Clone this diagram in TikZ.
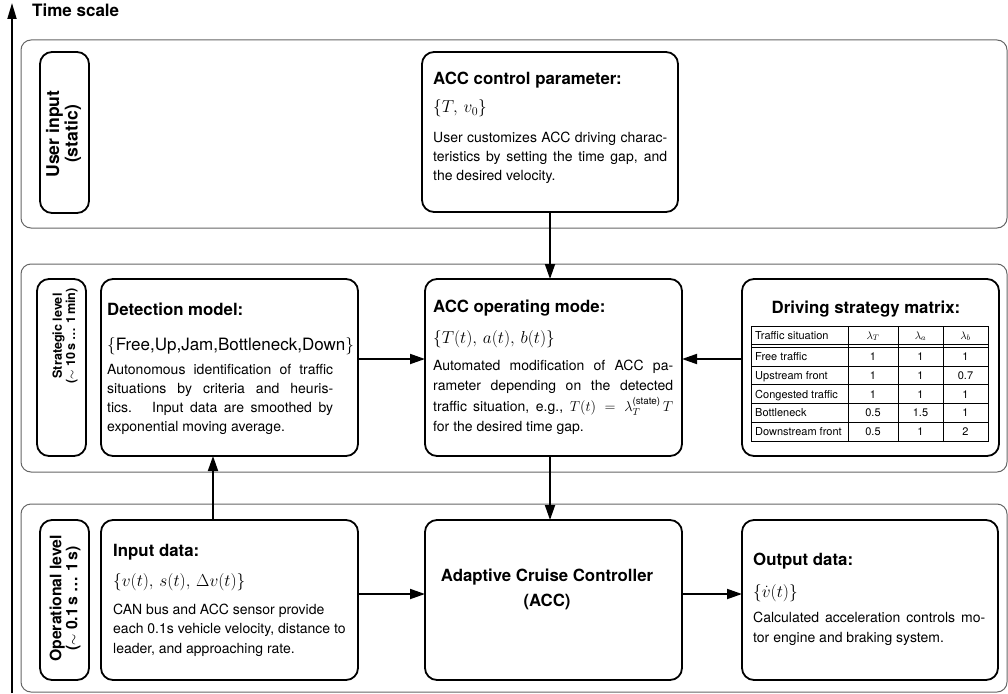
\documentclass[tikz,border=0pt]{standalone}
\usepackage{amsmath}
\usepackage[no-math]{fontspec}
\setmainfont{TeX Gyre Heros}
\usetikzlibrary{arrows.meta}
\definecolor{bandc}{gray}{0.4}
\newcommand{\jl}[2]{\hbox{\makebox[#1][s]{#2}}}
\newcommand{\pl}[1]{\hbox{#1}}
\newcommand{\titf}{\fontsize{16.8}{20}\selectfont\bfseries}
\newcommand{\bodf}{\fontsize{14}{19.5}\selectfont}
\newcommand{\matf}{\fontsize{17.5}{20}\selectfont}
\newcommand{\tabf}{\fontsize{11}{13}\selectfont}
\begin{document}
\begin{tikzpicture}[x=1pt,y=-1pt,
  band/.style={draw=bandc, line width=1pt, rounded corners=10pt},
  box/.style={draw, line width=1.8pt, rounded corners=12pt, inner sep=0pt, outer sep=0pt},
  arr/.style={line width=1.8pt, -{Triangle[length=15pt,width=10pt]}},
  tarr/.style={line width=1.8pt, -{Triangle[length=16pt,width=9pt]}},
  txt/.style={anchor=base west, inner sep=0pt},
  tline/.style={line width=0.6pt},
  cell/.style={anchor=base, inner sep=0pt, font=\tabf},
  vlab/.style={rotate=90, align=center, inner sep=0pt}]
\useasboundingbox (0,0) rectangle (1008,693);

% time scale
\coordinate (tb) at (12,693);
\coordinate (tt) at (12,3);
\draw[tarr] (tb) -- (tt);
\node[txt, font=\fontsize{17}{20}\selectfont\bfseries] (ts) at (32,17) {Time scale};

% bands
\draw[band] (21,40) rectangle (1007,228);
\draw[band] (21,264) rectangle (1007,472);
\draw[band] (21,504) rectangle (1007,692);

% label boxes
\node[box, minimum width=49pt, minimum height=161pt] (lab1) at (64.5,132.5) {};
\node[box, minimum width=49pt, minimum height=177pt] (lab2) at (61.5,367.5) {};
\node[box, minimum width=49pt, minimum height=160pt] (lab3) at (64.5,600) {};
\node[vlab, font=\fontsize{17.6}{18.5}\selectfont\bfseries] (lab1t) at (63.5,134) {User input\\(static)};
\node[vlab, font=\fontsize{12.6}{12}\selectfont\bfseries] (lab2t) at (65,336) {Strategic level\\($\sim$ 10\,s \ldots\ 1\,min)};
\node[vlab, font=\fontsize{15.8}{16}\selectfont\bfseries] (lab3t) at (65,598.5) {Operational level\\($\sim$ 0.1\,s \ldots\ 1\,s)};

% main boxes
\node[box, minimum width=256pt, minimum height=160pt] (ctrl) at (550,132) {};
\node[box, minimum width=257pt, minimum height=177pt] (mode) at (553.5,367.5) {};
\node[box, minimum width=257pt, minimum height=177pt] (det) at (229.5,367.5) {};
\node[box, minimum width=257pt, minimum height=177pt] (mat) at (870.5,367.5) {};
\node[box, minimum width=257pt, minimum height=160pt] (inp) at (229.5,600) {};
\node[box, minimum width=257pt, minimum height=160pt] (acc) at (553.5,600) {};
\node[box, minimum width=256pt, minimum height=160pt] (out) at (870,600) {};

% ACC control parameter
\node[txt, font=\titf] (ctrl-t) at (433,84) {ACC control parameter:};
\node[txt, font=\matf] (ctrl-m) at (433,112.7) {$\{T,\,v_0\}$};
\node[txt, font=\bodf] (ctrl-b) at (433,142.5) {\vtop{\baselineskip=19pt
  \jl{234pt}{User customizes ACC driving charac-}
  \jl{234pt}{teristics by setting the time gap, and}
  \pl{the desired velocity.}}};

% ACC operating mode
\node[txt, font=\titf] (mode-t) at (433,312.7) {ACC operating mode:};
\node[txt, font=\matf] (mode-m) at (433,343.3) {$\{T(t),\,a(t),\,b(t)\}$};
\node[txt, font=\bodf] (mode-b) at (433,370.7) {\vtop{\baselineskip=20.2pt
  \jl{240pt}{Automated modification of ACC pa-}
  \jl{240pt}{rameter depending on the detected}
  \jl{240pt}{traffic situation, e.g., $T(t) = \lambda_T^{\text{(state)}}\,T$}
  \pl{for the desired time gap.}}};

% Detection model
\node[txt, font=\titf] (det-t) at (107,315.5) {Detection model:};
\node[txt, font=\fontsize{17}{20}\selectfont] (det-m) at (107,350) {$\{$Free,Up,Jam,Bottleneck,Down$\}$};
\node[txt, font=\bodf] (det-b) at (107,374) {\vtop{\baselineskip=19.3pt
  \jl{226pt}{Autonomous identification of traffic}
  \jl{226pt}{situations by criteria and heuris-}
  \jl{226pt}{tics. \ Input data are smoothed by}
  \pl{exponential moving average.}}};

% Driving strategy matrix
\node[anchor=base, inner sep=0pt, font=\titf] (mat-t) at (866,313) {Driving strategy matrix:};
\draw[tline] (751,326) rectangle (988,441);
\draw[tline] (751,344) -- (988,344);
\draw[tline] (751,347) -- (988,347);
\foreach \yy in {365.8,384.6,403.4,422.2} \draw[tline] (751,\yy) -- (988,\yy);
\foreach \xx in {848,898,943} \draw[tline] (\xx,326) -- (\xx,441);
\node[cell, anchor=base west] (h0) at (755,339) {Traffic situation};
\node[cell] (h1) at (873,339) {$\lambda_T$};
\node[cell] (h2) at (920.5,339) {$\lambda_a$};
\node[cell] (h3) at (965.5,339) {$\lambda_b$};
\foreach \nm/\va/\vb/\vc [count=\i] in {Free traffic/1/1/1, Upstream front/1/1/0.7, Congested traffic/1/1/1, Bottleneck/0.5/1.5/1, Downstream front/0.5/1/2} {
  \pgfmathsetmacro{\yb}{347+(\i-0.5)*18.8+4}
  \node[cell, anchor=base west] (r\i-0) at (755,\yb) {\nm};
  \node[cell] (r\i-1) at (873,\yb) {\va};
  \node[cell] (r\i-2) at (920.5,\yb) {\vb};
  \node[cell] (r\i-3) at (965.5,\yb) {\vc};
}

% Input data
\node[txt, font=\titf] (inp-t) at (113,556) {Input data:};
\node[txt, font=\matf] (inp-m) at (113,586) {$\{v(t),\,s(t),\,\Delta v(t)\}$};
\node[txt, font=\bodf] (inp-b) at (113,614) {\vtop{\baselineskip=19.7pt
  \pl{CAN bus and ACC sensor provide}
  \pl{each 0.1s vehicle velocity, distance to}
  \pl{leader, and approaching rate.}}};

% ACC
\node[anchor=base, inner sep=0pt, font=\titf] (acc-1) at (547,581.7) {Adaptive Cruise Controller};
\node[anchor=base, inner sep=0pt, font=\titf] (acc-2) at (547,606.7) {(ACC)};

% Output data
\node[txt, font=\titf] (out-t) at (753,565.7) {Output data:};
\node[txt, font=\matf] (out-m) at (753,597) {$\{\dot v(t)\}$};
\node[txt, font=\bodf] (out-b) at (753,622.7) {\vtop{\baselineskip=20pt
  \jl{232pt}{Calculated acceleration controls mo-}
  \pl{tor engine and braking system.}}};

% arrows
\draw[arr] (ctrl.south) -- (ctrl.south |- mode.north);
\draw[arr] (mode.south -| ctrl.south) -- (acc.north -| ctrl.south);
\draw[arr] ([yshift=8.5pt]det.east) -- ([yshift=8.5pt]det.east -| mode.west);
\draw[arr] ([yshift=8.5pt]mat.west) -- ([yshift=8.5pt]mat.west -| mode.east);
\draw[arr] ([xshift=-16.5pt]inp.north) -- ([xshift=-16.5pt]inp.north |- det.south);
\draw[arr] ([yshift=6pt]inp.east) -- ([yshift=6pt]inp.east -| acc.west);
\draw[arr] ([yshift=6pt]acc.east) -- ([yshift=6pt]acc.east -| out.west);
\end{tikzpicture}
\end{document}
